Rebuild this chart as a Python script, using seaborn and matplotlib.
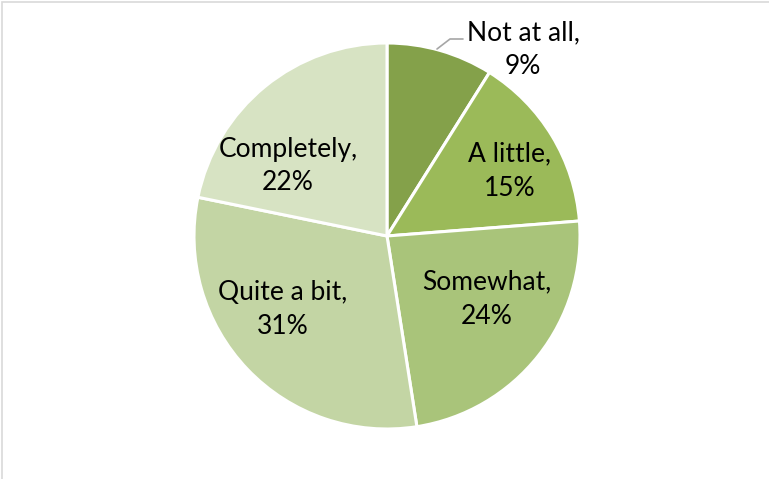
import matplotlib
matplotlib.use("Agg")
import matplotlib.pyplot as plt
from matplotlib.patches import Rectangle
import seaborn as sns

categories = ["Not at all", "A little", "Somewhat", "Quite a bit", "Completely"]
percents = [9, 15, 24, 31, 22]
colors = ["#84A14A", "#9BBA59", "#A9C47A", "#C3D5A4", "#D7E3C3"]

sns.set_theme(style="white")
plt.rcParams["font.family"] = ["Lato", "DejaVu Sans"]

W, H = 769, 479
fig = plt.figure(figsize=(W / 100, H / 100), dpi=100)
fig.patch.set_facecolor("white")

# outer chart frame (right and bottom edges run off the canvas)
fig.patches.append(Rectangle((1.5 / W, -0.1), 1.2, 1 - 2.5 / H + 0.1,
                             transform=fig.transFigure, fill=False,
                             edgecolor="#D9D9D9", linewidth=1.2))

cx, cy, r = 387, 236, 193
ax = fig.add_axes([(cx - r) / W, (H - cy - r) / H, 2 * r / W, 2 * r / H])
ax.axis("off")

ax.pie(percents, colors=colors, startangle=90, counterclock=False,
       radius=1, wedgeprops=dict(edgecolor="white", linewidth=2.2))
ax.set_xlim(-1, 1)
ax.set_ylim(-1, 1)
ax.set_aspect("equal")


def to_data(px, py):
    return (px - cx) / r, (cy - py) / r


label_pos = {
    "Not at all": (523, 50),
    "A little": (510, 171),
    "Somewhat": (487, 299),
    "Quite a bit": (283, 310),
    "Completely": (288, 166),
}
for cat, pct in zip(categories, percents):
    x, y = to_data(*label_pos[cat])
    ax.text(x, y, f"{cat},\n{pct}%", ha="center", va="center", fontsize=19,
            color="black", linespacing=1.45, clip_on=False)

# leader line for the smallest slice
pts = [to_data(437, 49), to_data(450, 39), to_data(463, 39)]
ax.plot([p[0] for p in pts], [p[1] for p in pts], color="#A6A6A6",
        linewidth=1.2, clip_on=False)

fig.savefig("out.png", dpi=100, facecolor="white")
